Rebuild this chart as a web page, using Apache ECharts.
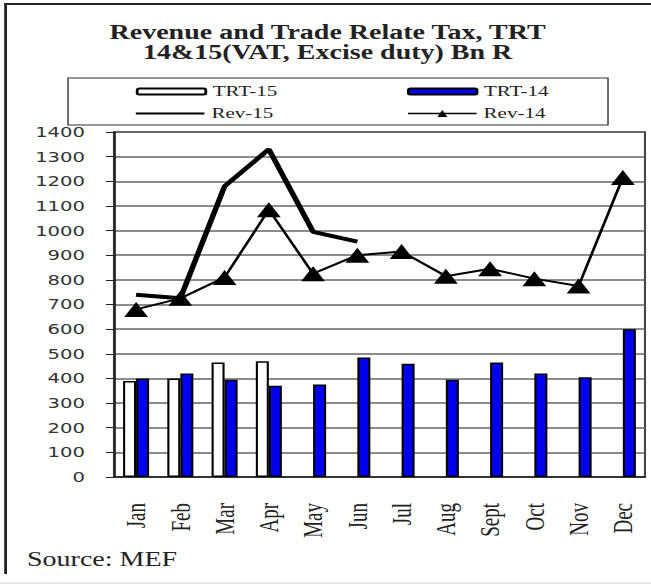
<!DOCTYPE html>
<html>
<head>
<meta charset="utf-8">
<script src="https://cdn.jsdelivr.net/npm/echarts@6/dist/echarts.min.js"></script>
<style>
html, body { margin: 0; padding: 0; background: #fff; overflow: hidden; }
/* the reference picture is stretched sideways, so draw narrow and stretch */
#chart { width: 465px; height: 585px; transform: scaleX(1.4); transform-origin: 0 0; }
</style>
</head>
<body>
<div id="chart"></div>
<script>
var months = ['Jan', 'Feb', 'Mar', 'Apr', 'May', 'Jun', 'Jul', 'Aug', 'Sept', 'Oct', 'Nov', 'Dec'];
var trt15 = [390, 400, 465, 470, null, null, null, null, null, null, null, null];
var trt14 = [400, 420, 395, 370, 375, 485, 460, 395, 465, 420, 405, 600];
var rev15 = [740, 725, 1180, 1330, 995, 955, null, null, null, null, null, null];
var rev14 = [680, 725, 810, 1085, 825, 900, 915, 815, 845, 805, 775, 1215];
var yMin = 0, yMax = 1400, yStep = 100;

var serif = 'Liberation Serif, Times New Roman, serif';
var chart = echarts.init(document.getElementById('chart'), null, { renderer: 'svg' });

function legendItem(name, left, top, extra) {
    var o = {
        data: [name],
        left: left,
        top: top,
        padding: 0,
        itemWidth: 49,
        itemHeight: 6,
        itemGap: 0,
        selectedMode: false,
        textStyle: { fontFamily: serif, fontSize: 15, color: '#222', padding: [0, 0, 0, 0] }
    };
    for (var k in extra) o[k] = extra[k];
    return o;
}

var option = {
    animation: false,
    title: {
        text: 'Revenue and Trade Relate Tax, TRT\n14&15(VAT, Excise duty) Bn R',
        left: 229,
        textAlign: 'center',
        top: 17,
        textStyle: { fontFamily: serif, fontWeight: 'bold', fontSize: 20, lineHeight: 20, color: '#222' }
    },
    legend: [
        legendItem('TRT-15', 97, 84, {}),
        legendItem('TRT-14', 290.7, 84, {}),
        legendItem('Rev-15', 97, 106, { data: [{ name: 'Rev-15', icon: 'rect' }], itemHeight: 2, itemStyle: { color: '#000', borderWidth: 0 } }),
        legendItem('Rev-14', 290.7, 106, { itemHeight: 9, lineStyle: { width: 1.5 } })
    ],
    grid: {
        left: 81.4,
        right: 4.3,
        top: 132,
        bottom: 108,
        show: true,
        borderColor: '#444',
        borderWidth: 1.5
    },
    xAxis: {
        type: 'category',
        data: months,
        axisLine: { lineStyle: { color: '#222', width: 1.5 } },
        axisTick: { length: 6, interval: 0, lineStyle: { color: '#222' } },
        axisLabel: { rotate: 90, interval: 0, margin: 26, fontFamily: serif, fontSize: 19, color: '#222' }
    },
    yAxis: {
        type: 'value',
        min: yMin,
        max: yMax,
        interval: yStep,
        axisLine: { show: true, lineStyle: { color: '#222', width: 1.5 } },
        axisTick: { show: true, length: 5.7, lineStyle: { color: '#222' } },
        axisLabel: {
            margin: 20.7, fontFamily: 'DejaVu Sans', fontSize: 14, color: '#333',
            formatter: function (v) { return String(v); }
        },
        splitLine: { lineStyle: { color: '#666', width: 1.5 } }
    },
    series: [
        {
            name: 'TRT-15',
            type: 'bar',
            data: trt15,
            barWidth: 9.3,
            barGap: '0%',
            itemStyle: { color: '#fff', borderColor: '#000', borderWidth: 1.5 }
        },
        {
            name: 'TRT-14',
            type: 'bar',
            data: trt14,
            barWidth: 9.3,
            itemStyle: { color: '#0000ee', borderColor: '#000', borderWidth: 1.5 }
        },
        {
            name: 'Rev-15',
            type: 'line',
            data: rev15,
            symbol: 'none',
            lineStyle: { color: '#000', width: 4 },
            itemStyle: { color: '#000' }
        },
        {
            name: 'Rev-14',
            type: 'line',
            data: rev14,
            symbol: 'triangle',
            symbolSize: [17, 15],
            lineStyle: { color: '#000', width: 2 },
            itemStyle: { color: '#000' }
        }
    ],
    graphic: [
        { type: 'rect', shape: { x: 48.6, y: 78, width: 385.7, height: 47 }, style: { fill: 'none', stroke: '#333', lineWidth: 1 } },
        { type: 'line', shape: { x1: 3, y1: 4, x2: 465, y2: 4 }, style: { stroke: '#222', lineWidth: 2 } },
        { type: 'line', shape: { x1: 4, y1: 3, x2: 4, y2: 574 }, style: { stroke: '#222', lineWidth: 2 } },
        { type: 'line', shape: { x1: 0, y1: 583, x2: 465, y2: 583 }, style: { stroke: '#ccc', lineWidth: 1 } },
        { type: 'text', left: 19.3, top: 549, style: { text: 'Source: MEF', font: '20px ' + serif, fill: '#222' } }
    ]
};
chart.setOption(option);
</script>
</body>
</html>
